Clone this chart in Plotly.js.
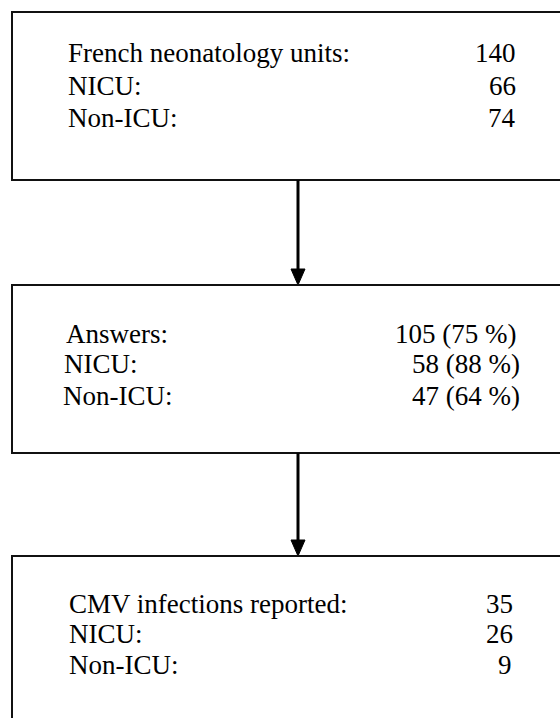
<!DOCTYPE html>
<html>
<head>
<meta charset="utf-8">
<script src="https://cdn.plot.ly/plotly-3.0.1.min.js"></script>
<style>html,body{margin:0;padding:0;background:#fff;}#chart{width:560px;height:718px;}</style>
</head>
<body>
<div id="chart"></div>
<script>
// Data
const box1Labels = ["French neonatology units:", "NICU:", "Non-ICU:"];
const box1Values = ["140", "66", "74"];
const box2Labels = ["Answers:", "NICU:", "Non-ICU:"];
const box2Values = ["105 (75 %)", "58 (88 %)", "47 (64 %)"];
const box3Labels = ["CMV infections reported:", "NICU:", "Non-ICU:"];
const box3Values = ["35", "26", "9"];

// Layout geometry (pixels)
const W = 560, H = 718;
const boxes = [
  {top: 12, bottom: 180, labels: box1Labels, values: box1Values, lx: [66, 66, 66], rx: [518, 518, 518], ly: [53.5, 86, 118.5]},
  {top: 285, bottom: 453, labels: box2Labels, values: box2Values, lx: [64, 62, 61], rx: [518, 522, 522], ly: [333.5, 364, 395.5]},
  {top: 556, bottom: 760, labels: box3Labels, values: box3Values, lx: [67, 67, 67], rx: [515, 515, 514], ly: [603.5, 634, 665]}
];
const boxLeft = 12, boxRight = 600, arrowX = 298;
const px = x => x / W;
const py = y => 1 - y / H;

const shapes = [];
const annotations = [];
boxes.forEach((b, i) => {
  shapes.push({type: "rect", xref: "paper", yref: "paper", x0: px(boxLeft), x1: px(boxRight), y0: py(b.top), y1: py(b.bottom),
    line: {color: "#111", width: 2}});
  b.labels.forEach((t, j) => {
    annotations.push({xref: "paper", yref: "paper", x: px(b.lx[j]), y: py(b.ly[j]), xanchor: "left", yanchor: "middle",
      text: t, showarrow: false, font: {family: "Liberation Serif", size: 27, color: "#000"}});
    annotations.push({xref: "paper", yref: "paper", x: px(b.rx[j]), y: py(b.ly[j]), xanchor: "right", yanchor: "middle",
      text: b.values[j], showarrow: false, font: {family: "Liberation Serif", size: 27, color: "#000"}});
  });
  if (i < boxes.length - 1) {
    const y0 = b.bottom, y1 = boxes[i + 1].top;
    shapes.push({type: "line", xref: "paper", yref: "paper", x0: px(arrowX), x1: px(arrowX), y0: py(y0), y1: py(y1 - 14),
      line: {color: "#000", width: 3}});
    shapes.push({type: "path", xref: "paper", yref: "paper",
      path: `M ${px(arrowX - 7)} ${py(y1 - 16)} L ${px(arrowX + 7)} ${py(y1 - 16)} L ${px(arrowX)} ${py(y1)} Z`,
      fillcolor: "#000", line: {color: "#000", width: 1}});
  }
});

Plotly.newPlot("chart", [], {width: W, height: H, margin: {l: 0, r: 0, t: 0, b: 0},
  xaxis: {visible: false}, yaxis: {visible: false}, shapes: shapes, annotations: annotations}, {staticPlot: true});
</script>
</body>
</html>
